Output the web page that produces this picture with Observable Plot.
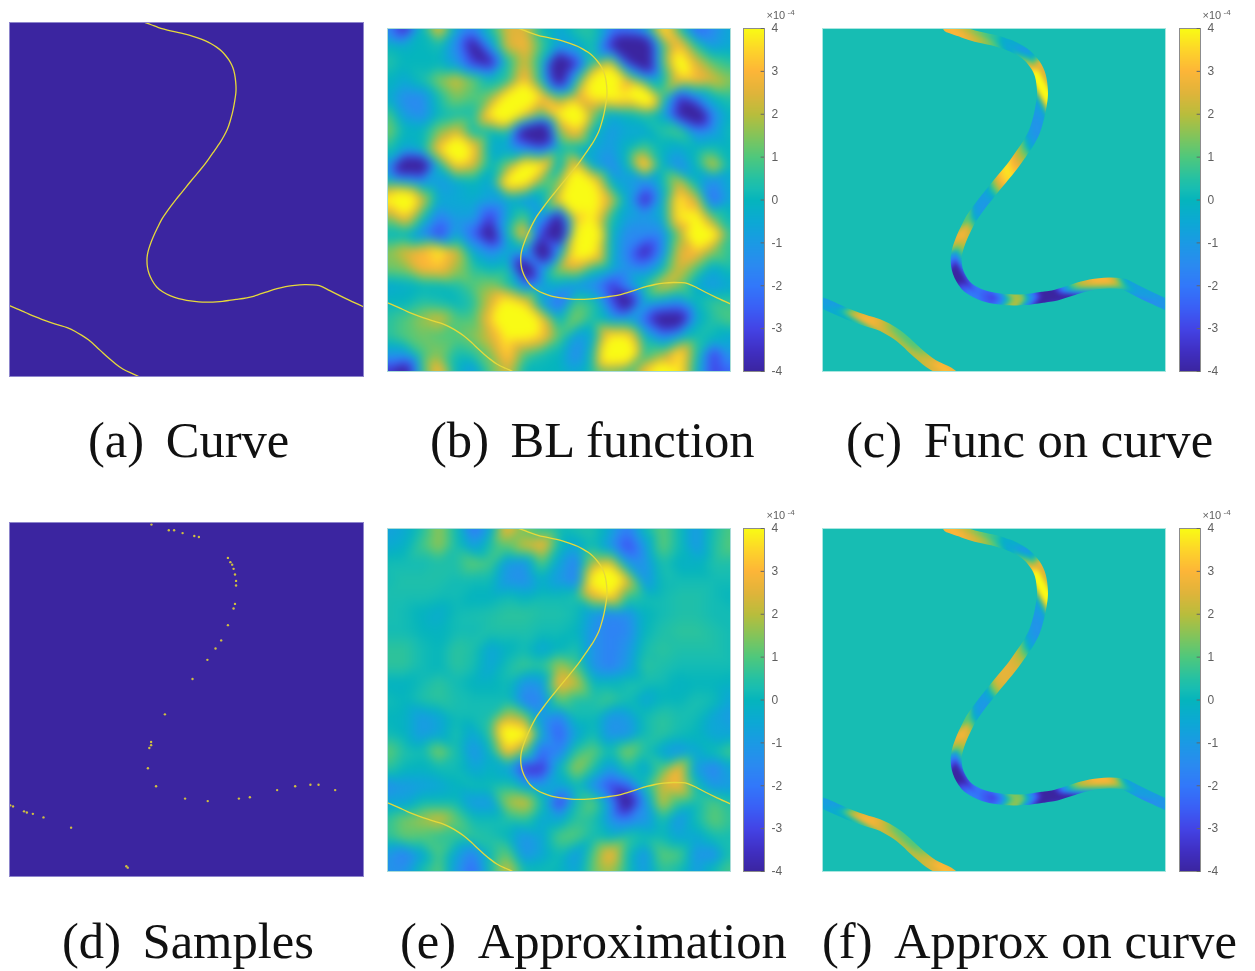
<!DOCTYPE html>
<html><head><meta charset="utf-8">
<script src="https://cdn.jsdelivr.net/npm/d3@7"></script>
<script src="https://cdn.jsdelivr.net/npm/@observablehq/plot@0.6"></script>
<style>
html,body{margin:0;padding:0;background:#fff}
#page{position:relative;width:1255px;height:971px;overflow:hidden;background:#fff}
.cap{position:absolute;font:50.6px/50px "Liberation Serif",serif;color:#111;white-space:pre}
.cap span+span{margin-left:21.5px}
</style></head><body><div id="page"></div>
<script>
const colorStops=[-4,-3.5,-3,-2.5,-2,-1.5,-1,-0.5,0,0.25,0.5,1,1.5,2,2.5,3,3.5,4];
const colorHexes=["#3b25a0","#4030c4","#4344e6","#3a60f6","#3278fa","#2a8bf0","#1b9ae4","#0ca9d4","#05b5bd","#17bdb3","#25c1a3","#4fc87c","#84c45a","#b9bd3c","#e0b43a","#fdb538","#fdd52a","#f9fb15"];
const colorTicks=[-4,-3,-2,-1,0,1,2,3,4];
const captions=[["(a)","Curve"],["(b)","BL function"],["(c)","Func on curve"],["(d)","Samples"],["(e)","Approximation"],["(f)","Approx on curve"]];

const upperCurve=[[365,-6],[382,0],[400,6],[420,14],[436,19],[455,24],[475,28],[494,32],[510,36],[525,41],[540,46],[553,51],[570,60],[585,69],[600,81],[612,95],[621,107],[628,120],[634,135],[638,156],[640,180],[640,192],[639,204],[637,217],[634,235],[630,255],[623,280],[616,302],[605,322],[596,338],[587,350],[575,368],[563,385],[553,399],[540,415],[525,433],[509,452],[497,467],[485,482],[470,500],[455,520],[442,538],[430,555],[418,580],[408,600],[400,620],[393,640],[389,657],[388,672],[389,690],[393,708],[402,728],[415,748],[433,762],[455,773],[478,781],[500,785],[523,788],[545,790],[565,790],[585,789],[601,788],[620,785],[640,782],[660,780],[680,776],[700,770],[718,764],[735,758],[755,752],[780,746],[805,742],[835,740],[858,741],[875,742],[895,752],[925,768],[960,785],[1000,803],[1020,812]];
const upperFunc=[3,3,2.9,2.6,2.3,2,1.6,1,0.3,-0.4,-0.8,-1.1,-1.1,-1,-0.6,0.6,2.6,3.6,5,6.5,6.5,4.5,2.3,0.1,-0.9,-1.1,-1.3,-1.2,-0.9,-0.2,1,1.9,2.6,3.2,3.8,3.4,2.3,0.8,-0.5,-1,-1,-0.7,1,2.6,3,2.4,1,-1.3,-2.6,-4,-5,-4.5,-3,-2.2,-2.2,-2.8,-3.1,-2,0.5,2,1.7,-0.3,-2,-3.8,-5.5,-4.5,-2.5,-0.6,0.9,1.9,2.5,3,3,2.2,0.6,-0.6,-0.9,-0.9,-1.2,-1.2];
const upperApprox=[3,3,2.9,2.6,2.4,2.1,1.7,1,0.4,-0.3,-0.8,-1.1,-1.1,-1,-0.6,0.8,2.6,3.4,5,6.5,6.5,4.8,2.4,0.3,-0.9,-1.1,-1.3,-1.2,-0.9,-0.3,0.8,1.8,2.3,2.5,2.6,2.6,2.4,1.4,-0.3,-1,-1,-0.6,1,2.6,3,2.4,1.2,-1.3,-2.6,-4,-5,-4.5,-3,-2.2,-2.2,-2.8,-3.1,-2,0.5,1.6,1.4,-0.3,-2,-3.8,-5.2,-4.5,-2.5,-0.6,0.9,1.9,2.5,3,3,2.2,0.6,-0.6,-0.9,-0.9,-1.2,-1.2];
const lowerCurve=[[-20,792],[0,800],[20,808],[38,816],[55,824],[72,831],[90,838],[115,847],[140,855],[163,861],[185,872],[205,884],[222,895],[245,915],[265,935],[280,948],[300,965],[320,980],[340,989],[368,1000],[388,1018]];
const lowerFunc=[-1,-1,-1,-0.9,0.4,1.6,2.5,3,3,2.6,2,1.5,1.3,1.2,1.3,1.6,2.2,3,3.2,3.1,3.1];
const lowerApprox=[-1,-1,-1,-0.9,0.4,1.6,2.5,3,3,2.6,2,1.5,1.3,1.2,1.3,1.6,2.2,3,3.2,3.1,3.1];

const sampleX=[401,450,465,489,522,535,617,624,629,633,637,640,640,637,633,617,598,582,559,517,439,400,400,395,391,414,496,560,648,679,756,807,850,873,920,2,10,41,49,66,96,174,330,334];
const sampleY=[6,22,22,30,38,41,100,112,119,131,147,165,178,230,243,290,333,356,388,442,542,620,629,637,694,745,780,787,780,776,756,745,741,741,756,799,802,816,819,823,833,862,971,975];

const gridAxis=[0,50,100,150,200,250,300,350,400,450,500,550,600,650,700,750,800,850,900,950,1000];
const gridFunction=[
[-1.5,-4,0,3,-0.5,-1.5,0.5,2.5,2.5,0,-0.5,0.5,0.5,-1.5,-1.5,-0.5,4,0.5,-2.4,-1.5,-0.5],
[0,-0.3,0,0.3,-1.5,-4.5,-1,2.5,3,0.8,-0.8,-0.5,0.3,-3.5,-6,-6,0.5,3.2,0.5,-1,-0.5],
[0.5,0,0,0,-1,-3.2,-4,0.3,2.4,0,-6.5,-3.2,0.8,2.5,-3,-6,0.5,5,2.5,1,0.5],
[0,-0.5,0.3,1.5,2.4,1.3,0,0.5,3.2,0,-5,0,4.5,7,2.4,0,0,3,3,2.4,1.5],
[-0.3,-1.5,-1.5,0.3,1.5,1,1.5,4.5,6.5,3.2,1,2.4,4,4.5,4,6.5,1,-3.2,-1.5,0,0.5],
[1,-1,-1.5,0,0.3,0.3,4,6.5,3.2,1,4,6.5,1.5,-0.5,0,0.5,-0.5,-4,-6,-1.5,0],
[1.5,0,0,1.5,2.4,0,0,0.5,-5,-7,1.5,3.2,0,-1,-0.5,-0.5,0.5,1,-1.5,-1,0.3],
[0.5,-0.5,0,3.2,6.5,3.2,-0.3,-0.5,-1.5,-2.4,0,0,-0.5,-1,0,1,0,-0.5,0,0.3,0],
[-1,-6,-6,0,3.2,2.4,0,1.5,4.5,4,-0.3,3.2,-0.5,-1.5,0,4,0,-1.5,0,2.4,0],
[0.5,0,-1,-1,-0.5,0,-0.5,4.5,4,1,1.5,6.5,4,0,-0.8,-1.5,0,2.4,0,-1.5,-0.3],
[4,6.5,2.4,-0.5,-0.5,-0.3,-0.8,-0.5,-1,-0.3,3.2,6.5,4.5,2.4,-0.5,-4,-0.5,4,2.4,-2.4,-0.5],
[1.5,3.2,0.5,-1.8,-0.8,-0.8,-3.2,-0.5,1,-1,-4.5,3.2,4,0.5,-0.8,-1,-0.5,4,4.5,1,0],
[0,0,-1.5,-3.2,-0.5,-2.4,-5,0,3.2,-3.2,-6.5,4,6.5,0,-1.5,-1.5,-1.5,1.5,6.5,4.5,0.5],
[1.5,2.4,3,4,2.4,-0.5,-1.5,-0.3,-0.5,-6.5,-1,4.5,4.5,0,-1.8,-4,-1.5,2.4,3.2,1.5,0.5],
[1.3,1.5,3,3.2,1.8,0.5,0,0.3,-6,-1.2,1.8,2.4,0.5,-0.3,-1.2,-1.5,0,2.4,1,-0.5,0.3],
[-0.5,-0.3,0,0,0.3,1,1.5,0.5,-1.5,-0.8,-0.5,-1,-1.5,-3.2,-1.5,0.5,2.4,1.5,-0.5,-1,-0.5],
[0,0,0.5,0.3,0,0.5,2.4,4.5,3.2,-0.8,-2.4,1,0.5,-2.4,-5,-0.5,-1,-1.5,0,0.7,0.7],
[0.5,1,1.7,2.4,1,1,3.2,6.5,6.5,3.2,0,1.5,0.3,-0.5,-0.5,-2.4,-5,-5,-0.5,0.5,1],
[0.5,1,1.3,1,1,1.5,2.4,4,4,3.2,1,-1,-0.3,4,4,0,-1.5,-0.5,0.3,0,-0.5],
[-1,-1,0.8,1.5,0.3,0.5,1.5,3.5,1,0.3,0,-1.5,0.5,6.5,6,0.5,1.5,4,0.5,-3.2,-1],
[-3.5,-5,0.5,3.2,0,-1,1,2.4,0,0,0,-0.5,0.5,1,0.5,3.2,6,4,0,-3.2,-2.4]];
const gridApprox=[
[-0.8,-0.5,0.4,1.7,0.2,-2.2,-0.6,3,1.3,0.4,0.2,0.4,0.4,-0.5,-1.8,0.2,1.2,0.2,-1.1,0.3,1],
[-0.5,-0.2,0.8,1.7,0.3,-0.9,0.4,1.1,2.3,3,0.2,-0.6,0.2,-1.1,-3,-0.9,1.2,0.2,-1.1,0.4,1.1],
[0.2,0.2,0.2,0.4,0.4,1.2,0.9,-1,-1.2,1.1,-0.6,-1.8,2,2.6,-1,-1.2,0.4,-0.2,-0.2,0.4,0.4],
[0.2,0.4,0.4,0.4,0.2,0.2,0.2,-1.2,-1.4,-0.2,-1,-1.8,4.5,7,2.5,-1.2,0.2,0.2,0.2,0.2,0.2],
[0.3,0.3,0.3,0.2,0.2,-0.1,-0.1,0.2,-0.1,0.2,0.2,0.4,2.6,3.5,0.6,0.2,0.2,0.4,0.4,0.2,0],
[0.3,0.2,-0.1,-0.4,0.2,0.3,0.4,0.6,0.6,0.4,0.4,0.2,-1,-1.6,-1.4,-0.1,0.2,0.4,0.4,0.2,0.2],
[0.2,0.2,0,-0.1,0.2,0.2,0.4,0.4,0.4,0.2,0.2,0,-1.2,-1.8,-1.6,0,0.4,0.6,0.6,0.4,0.2],
[0.6,0.6,0.2,0,0.6,0.4,-0.6,-0.1,0.2,-0.6,-0.1,0.4,-1.2,-1.8,-1.2,0.3,0.6,0.4,0.4,0.4,0.2],
[0.6,0.6,0.2,0,0.6,0.3,-0.6,0.3,0.8,0.6,1.9,1,-1.2,-1.8,-1,0.6,0.4,0.2,0.2,0.2,0.2],
[-0.1,-0.1,0.2,0.6,0.2,-0.1,-0.1,0.2,-1.2,-1,3,2.2,0,0,0.3,0.3,0.2,-0.1,0,0,-0.1],
[0.2,0,0.4,0.6,0.3,0.2,0.2,0.2,-1.8,-1.6,1.2,0.4,0.4,0.8,0.3,-0.6,0,0,0.3,0.2,-0.6],
[0,-0.1,-1,-0.6,0.2,0.2,0.3,2.2,1.5,-1,-1.8,0.2,0.2,-1.2,-1,0.2,0.6,0.3,0.2,-0.6,-1],
[0.2,-0.1,-1,-0.6,0.4,-0.6,0.6,5.5,4.5,-0.6,-2.6,-0.6,0.3,-1.3,-1.2,0.2,0.6,0.2,0,-0.6,-0.6],
[1.2,0.4,0.2,1.6,0.4,-1.2,-0.1,3.2,1.2,-2.4,-1.8,0.6,1.2,0.2,1.6,0.4,-0.6,-1.2,-0.6,0.2,1],
[0.6,0,-0.1,0.2,0.2,-0.6,-0.1,-0.6,-3.6,-3.6,-0.1,1.8,0.4,-1,0.4,-0.6,1,3,-1,-1.8,-0.6],
[-1.4,-1,-0.8,-0.6,-0.1,0.2,0.2,0.4,-0.6,-1,-0.6,0.2,-1.4,-3,-2.4,0.2,2.4,3,0.2,-1.2,-1],
[-0.6,-0.6,0.2,0.2,0.2,-1,-1,1.8,2.4,0.2,-3.4,0.2,1.2,-1.2,-5,-1.2,2.2,0.6,0.2,1,0.4],
[0.6,1.4,1.8,2.4,1.2,0.2,0.2,0.4,0.6,-0.6,-0.6,0.6,0.4,-1.2,-1.8,-1.2,0.4,-1.2,0.2,1.2,0.6],
[0.6,1.2,1,0.6,0.6,0.6,0.4,0,-1.2,-0.6,1,1,0.2,-0.1,0.6,0.2,0.2,-0.6,-0.6,0.2,0.2],
[-1,-1.8,-0.6,1,-0.6,-1.8,0.2,1.2,-1.2,-0.6,0.2,-1,1,3,0.2,-1.2,1.2,1,-1.2,-1.4,0.4],
[-1.2,-1.2,0.4,1.2,-1,-2.4,0.2,2.4,0.2,0.2,0,-0.6,1.2,1.8,0.2,-1,0.6,0.2,-1,0.2,1]];

const page=document.getElementById("page");
const color={type:"linear",domain:colorStops,range:colorHexes,clamp:true};
const curveRows=(up,lo)=>[
  ...upperCurve.map(([x,y],i)=>({x,y,part:"upper",v:up?up[i]:0})),
  ...lowerCurve.map(([x,y],i)=>({x,y,part:"lower",v:lo?lo[i]:0}))];
const thinLine=()=>Plot.line(curveRows(),{x:"x",y:"y",z:"part",stroke:"#e6d93a",strokeWidth:1.3,curve:"basis",clip:"frame"});
const gridRows=g=>g.flatMap((r,j)=>r.map((v,i)=>({x:gridAxis[i],y:gridAxis[j],v})));

function place(left,top,size,marks){
  const p=Plot.plot({width:size,height:size,margin:0,
    x:{domain:[0,1000],axis:null},y:{domain:[1000,0],axis:null},color,marks,
    style:{position:"absolute",left:left+"px",top:top+"px",background:"none",filter:"blur(0.5px)",overflow:"visible"}});
  page.appendChild(p);
  return p;
}
const field=g=>Plot.raster(gridRows(g),{x:"x",y:"y",fill:"v",x1:0,x2:1000,y1:0,y2:1000,interpolate:"barycentric",pixelSize:1,blur:4});
const edge=c=>Plot.frame({stroke:c,strokeWidth:1});

// The band: values along the curve are spread by the raster mark, then shown only under the thick curve.
let maskCount=0;
function bandPanel(left,top,up,lo){
  const rows=curveRows(up,lo);
  const p=place(left,top,343,[
    Plot.frame({fill:"#17bdb3"}),
    Plot.raster(rows,{x:"x",y:"y",fill:"v",x1:0,x2:1000,y1:0,y2:1000,interpolate:"barycentric",pixelSize:1,blur:1.5}),
    Plot.line(rows,{x:"x",y:"y",z:"part",stroke:"white",strokeWidth:11,strokeLinejoin:"round",curve:"basis"}),
    edge("#a9e6df")]);
  const id="band"+(++maskCount);
  const mask=document.createElementNS("http://www.w3.org/2000/svg","mask");
  mask.setAttribute("id",id);mask.setAttribute("maskUnits","userSpaceOnUse");
  mask.setAttribute("x",0);mask.setAttribute("y",0);mask.setAttribute("width",343);mask.setAttribute("height",343);
  mask.appendChild(p.querySelector('[aria-label="line"]'));
  p.appendChild(mask);
  p.querySelector('[aria-label="raster"]').setAttribute("mask",`url(#${id})`);
}

function colorbar(left,top){
  const h=343,mt=20;
  const p=Plot.plot({width:62,height:h+mt+8,marginTop:mt,marginBottom:8,marginLeft:0,marginRight:41,
    x:{domain:[0,1],axis:null},y:{domain:[-4,4],axis:null},color,
    marks:[
      Plot.raster({x1:0,x2:1,y1:-4,y2:4,fill:(x,y)=>y,pixelSize:1}),
      Plot.frame({stroke:"#8c8c8c",strokeWidth:1}),
      Plot.ruleY(colorTicks,{x1:0.84,x2:1,stroke:"#666",strokeWidth:1}),
      Plot.axisY(colorTicks,{anchor:"right",tickSize:0,tickPadding:7,fontSize:12,fill:"#5f5f5f",tickFormat:d=>String(d),label:null,fontFamily:"Liberation Sans"}),
      Plot.text(["×10"],{x:[1],y:[4],dx:2,dy:-13,textAnchor:"start",fontSize:11,fill:"#5f5f5f",fontFamily:"Liberation Sans"}),
      Plot.text(["-4"],{x:[1],y:[4],dx:23,dy:-16,textAnchor:"start",fontSize:8,fill:"#5f5f5f",fontFamily:"Liberation Sans"})
    ],
    style:{position:"absolute",left:left+"px",top:(top-mt)+"px",background:"none",filter:"blur(0.4px)",overflow:"visible"}});
  page.appendChild(p);
}

const dark="#3b25a0";
place(9,22,354,[Plot.frame({fill:dark}),thinLine(),edge("#8d85cc")]);
place(387,28,343,[field(gridFunction),thinLine(),edge("#a9dcd8")]);
bandPanel(822,28,upperFunc,lowerFunc);
place(9,522,354,[Plot.frame({fill:dark}),
  Plot.dot(sampleX.map((x,i)=>({x,y:sampleY[i]})),{x:"x",y:"y",r:1.2,fill:"#d0c040",stroke:"none"}),edge("#8d85cc")]);
place(387,528,343,[field(gridApprox),thinLine(),edge("#a9dcd8")]);
bandPanel(822,528,upperApprox,lowerApprox);
colorbar(743,28);colorbar(1178.5,28);colorbar(743,528);colorbar(1178.5,528);

const capPos=[[88,415],[430,415],[846,415],[62,915.5],[400,915.5],[822,915.5]];
captions.forEach(([a,b],i)=>{
  const d=document.createElement("div");d.className="cap";
  d.style.left=capPos[i][0]+"px";d.style.top=capPos[i][1]+"px";
  const s1=document.createElement("span");s1.textContent=a;
  const s2=document.createElement("span");s2.textContent=b;
  d.append(s1,s2);page.appendChild(d);
});
</script></body></html>
